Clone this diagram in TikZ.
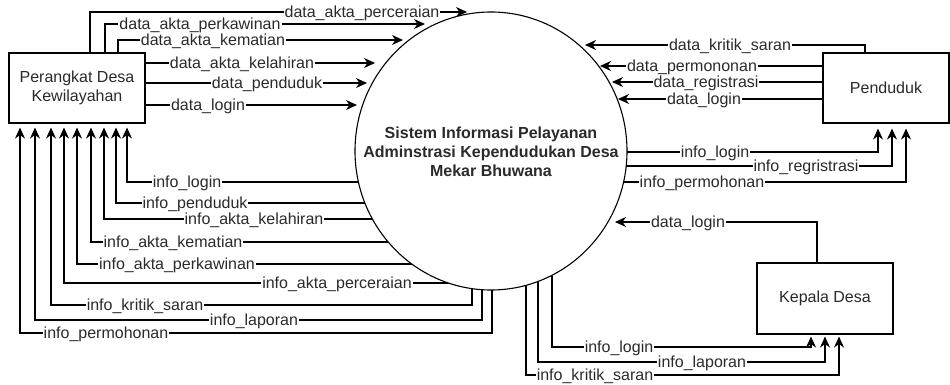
\documentclass[tikz,border=0pt]{standalone}
\usepackage{fontspec}
\setmainfont{Liberation Sans}
\usetikzlibrary{arrows.meta,shapes.geometric,backgrounds}
\newcommand\fs{\fontsize{16}{19}\selectfont}
\definecolor{txt}{HTML}{2A2A2A}
\tikzset{
  ln/.style={draw=black, line width=1.1pt},
  arr/.style={ln, -{Stealth[length=11pt,width=10pt,inset=3.5pt]}},
  gap/.style={shorten >=#1},
  ent/.style={draw=black, line width=1.1pt, fill=white, align=center, font=\fs, text=txt, inner sep=0pt},
  lbl/.style={fill=white, inner xsep=1pt, inner ysep=0.5pt, text height=11pt, text depth=0pt, font=\fs, text=txt}
}
\begin{document}
\begin{tikzpicture}[x=1pt,y=-1pt]
\useasboundingbox (0,0) rectangle (950,385);
% entities
\node[ent, minimum width=136pt, minimum height=70pt] (pk) at (77,88) {Perangkat Desa\\Kewilayahan};
\node[ent, minimum width=126pt, minimum height=70pt] (pd) at (886,88) {Penduduk};
\node[ent, minimum width=136pt, minimum height=71pt] (kd) at (825,298.5) {Kepala Desa};
\node[ellipse, draw=black, line width=1.1pt, fill=white, minimum width=272pt, minimum height=278pt, inner sep=0pt] (sys) at (491,151) {};
\node[font=\fs\bfseries, align=center, text=txt] (systxt) at (491,152) {Sistem Informasi Pelayanan\\Adminstrasi Kependudukan Desa\\Mekar Bhuwana};
% tips of arrows into the process
\coordinate (tPerc) at (467,12);
\coordinate (tPerk) at (425,24);
\coordinate (tKem) at (403,40);
\coordinate (tKel) at (375,63);
\coordinate (tPen) at (367,83);
\coordinate (tLog) at (357,105);
\coordinate (tKrit) at (585,45);
\coordinate (tPerm) at (600,66);
\coordinate (tReg) at (612,82);
\coordinate (tLogP) at (618,99);
\coordinate (tLogK) at (615,222);
\begin{scope}[on background layer]
% Perangkat -> system
\draw[arr] ([xshift=13pt]pk.north) |- (tPerc);
\draw[arr] ([xshift=28pt]pk.north) |- (tPerk);
\draw[arr] ([xshift=41pt]pk.north) |- (tKem);
\draw[arr] (pk.east |- tKel) -- (tKel);
\draw[arr] (pk.east |- tPen) -- (tPen);
\draw[arr] (pk.east |- tLog) -- (tLog);
% system -> Perangkat
\begin{scope}[gap=4pt]
\draw[arr] ([yshift=-31pt]sys.center) -| ([xshift=50pt]pk.south);
\draw[arr] ([yshift=-52pt]sys.center) -| ([xshift=39pt]pk.south);
\draw[arr] ([yshift=-68pt]sys.center) -| ([xshift=27pt]pk.south);
\draw[arr] ([yshift=-91pt]sys.center) -| ([xshift=14pt]pk.south);
\draw[arr] ([yshift=-113pt]sys.center) -| (pk.south);
\draw[arr] ([yshift=-132pt]sys.center) -| ([xshift=-13pt]pk.south);
\draw[arr] ([xshift=-19pt]sys.center) -- ([xshift=-19pt,yshift=-154pt]sys.center) -| ([xshift=-26pt]pk.south);
\draw[arr] ([xshift=-9pt]sys.center) -- ([xshift=-9pt,yshift=-169pt]sys.center) -| ([xshift=-42pt]pk.south);
\draw[arr] ([xshift=1pt]sys.center) -- ([xshift=1pt,yshift=-182pt]sys.center) -| ([xshift=-57pt]pk.south);
\end{scope}
% Penduduk -> system
\draw[arr] ([xshift=-21pt]pd.north) |- (tKrit);
\draw[arr] (pd.west |- tPerm) -- (tPerm);
\draw[arr] (pd.west |- tReg) -- (tReg);
\draw[arr] (pd.west |- tLogP) -- (tLogP);
% system -> Penduduk
\begin{scope}[gap=5pt]
\draw[arr] ([yshift=-1pt]sys.center) -| ([xshift=-8pt]pd.south);
\draw[arr] ([yshift=-15pt]sys.center) -| ([xshift=6pt]pd.south);
\draw[arr] ([yshift=-31pt]sys.center) -| ([xshift=20pt]pd.south);
\end{scope}
% Kepala Desa -> system
\draw[arr] ([xshift=-8pt]kd.north) |- (tLogK);
% system -> Kepala Desa
\begin{scope}[gap=2pt]
\draw[arr] ([xshift=61pt]sys.center) -- ([xshift=61pt,yshift=-196pt]sys.center) -| ([xshift=-14pt]kd.south);
\draw[arr] ([xshift=47pt]sys.center) -- ([xshift=47pt,yshift=-211pt]sys.center) -| (kd.south);
\draw[arr] ([xshift=35pt]sys.center) -- ([xshift=35pt,yshift=-224pt]sys.center) -| ([xshift=14pt]kd.south);
\end{scope}
\end{scope}
% labels
\node[lbl] (l1) at (362,12) {data\_akta\_perceraian};
\node[lbl] (l2) at (200,24) {data\_akta\_perkawinan};
\node[lbl] (l3) at (213,40) {data\_akta\_kematian};
\node[lbl] (l4) at (242,63) {data\_akta\_kelahiran};
\node[lbl] (l5) at (267,83) {data\_penduduk};
\node[lbl] (l6) at (208,105) {data\_login};
\node[lbl] (l7) at (187,182) {info\_login};
\node[lbl] (l8) at (195,203) {info\_penduduk};
\node[lbl] (l9) at (254,219) {info\_akta\_kelahiran};
\node[lbl] (l10) at (173,242) {info\_akta\_kematian};
\node[lbl] (l11) at (177,264) {info\_akta\_perkawinan};
\node[lbl] (l12) at (337,283) {info\_akta\_perceraian};
\node[lbl] (l13) at (145,305) {info\_kritik\_saran};
\node[lbl] (l14) at (254,320) {info\_laporan};
\node[lbl] (l15) at (106,333) {info\_permohonan};
\node[lbl] (r1) at (730,45) {data\_kritik\_saran};
\node[lbl] (r2) at (692,66) {data\_permononan};
\node[lbl] (r3) at (706,82) {data\_registrasi};
\node[lbl] (r4) at (704,99) {data\_login};
\node[lbl] (r5) at (715,152) {info\_login};
\node[lbl] (r6) at (806,166) {info\_regristrasi};
\node[lbl] (r7) at (702,182) {info\_permohonan};
\node[lbl] (k1) at (688,222) {data\_login};
\node[lbl] (k2) at (619,347) {info\_login};
\node[lbl] (k3) at (702,362) {info\_laporan};
\node[lbl] (k4) at (595,375) {info\_kritik\_saran};
\end{tikzpicture}
\end{document}
